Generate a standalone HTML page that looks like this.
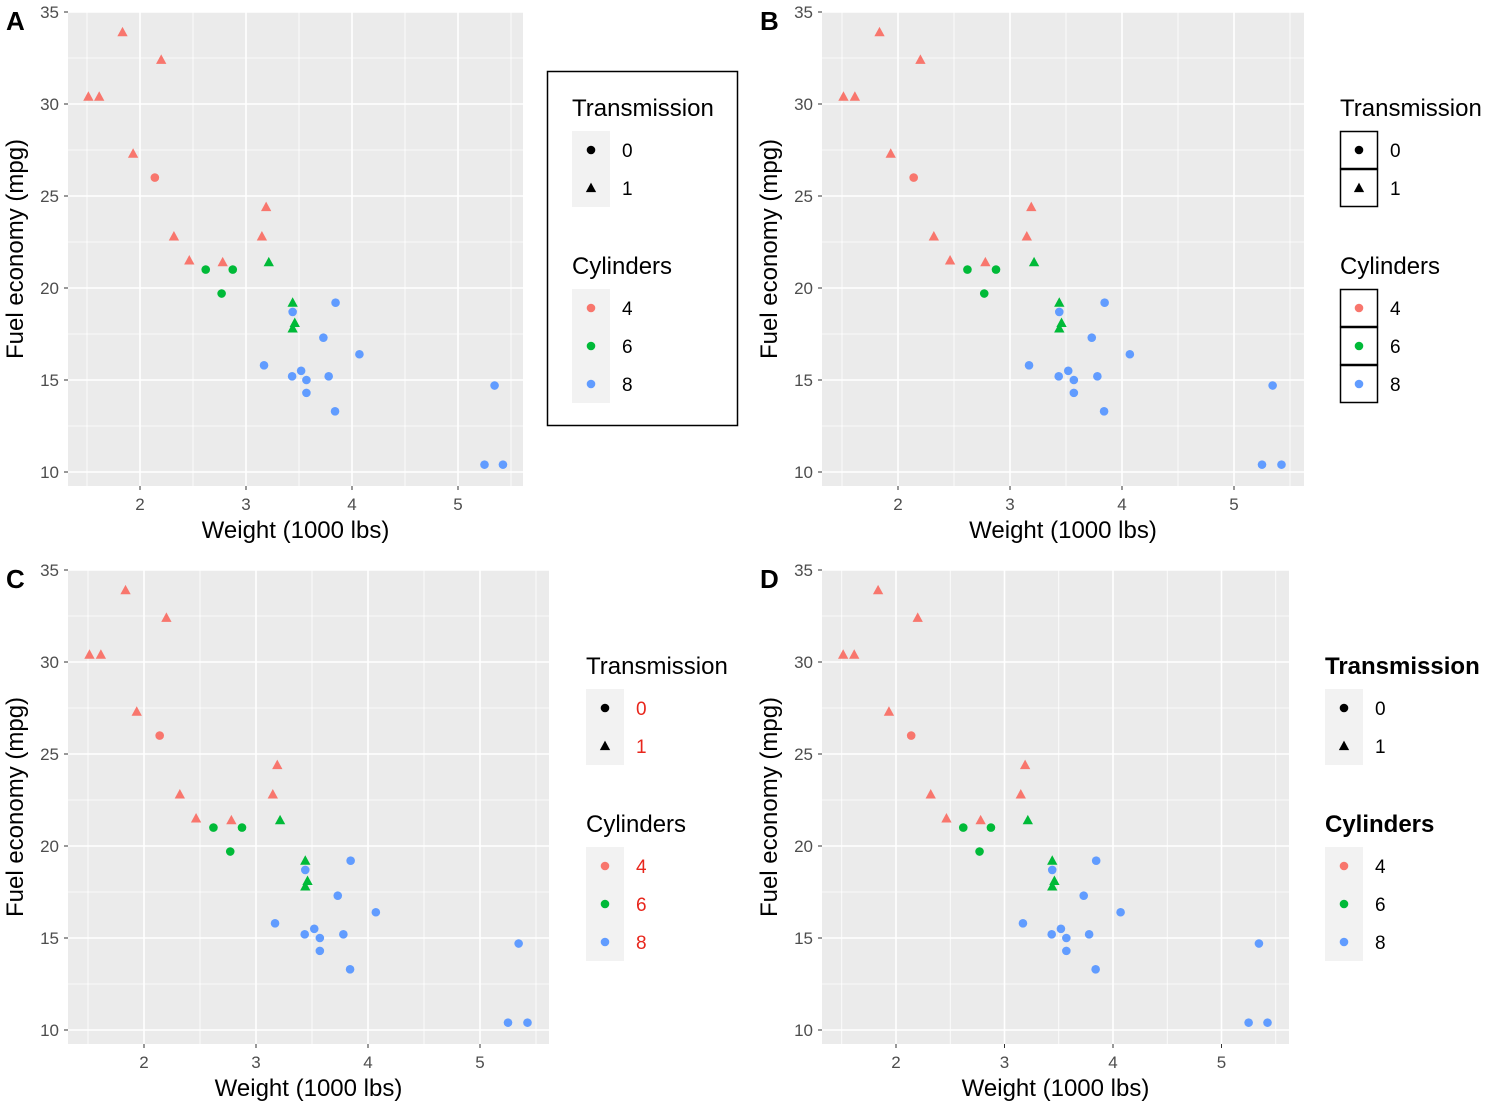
<!DOCTYPE html>
<html><head><meta charset="utf-8"><style>
html,body{margin:0;padding:0;background:#fff;}
svg{display:block;font-family:"Liberation Sans",Arial,sans-serif;}
</style></head><body>
<svg id="s" width="1500" height="1109" viewBox="0 0 1500 1109" xmlns="http://www.w3.org/2000/svg"></svg>
<script>
// mtcars: weight (1000 lbs), mpg, cylinders, shape group
const weights=[2.620,2.875,2.320,3.215,3.440,3.460,3.570,3.190,3.150,3.440,3.440,4.070,3.730,3.780,5.250,5.424,5.345,2.200,1.615,1.835,2.465,3.520,3.435,3.840,3.845,1.935,2.140,1.513,3.170,2.770,3.570,2.780];
const mpgs=[21.0,21.0,22.8,21.4,18.7,18.1,14.3,24.4,22.8,19.2,17.8,16.4,17.3,15.2,10.4,10.4,14.7,32.4,30.4,33.9,21.5,15.5,15.2,13.3,19.2,27.3,26.0,30.4,15.8,19.7,15.0,21.4];
const cyls=[6,6,4,6,8,6,8,4,4,6,6,8,8,8,8,8,8,4,4,4,4,8,8,8,8,4,4,4,8,6,8,4];
const trans=[0,0,1,1,0,1,0,1,1,1,1,0,0,0,0,0,0,1,1,1,1,0,0,0,0,1,0,1,0,0,0,1];
const xTicks=[2,3,4,5];
const yTicks=[10,15,20,25,30,35];
const transLevels=["0","1"];
const cylLevels=["4","6","8"];
const colors={4:"#F8766D",6:"#00BA38",8:"#619CFF"};

const NS="http://www.w3.org/2000/svg";
const svg=document.getElementById('s');
function el(tag,attrs,parent,text){const e=document.createElementNS(NS,tag);for(const k in attrs)e.setAttribute(k,attrs[k]);if(text!==undefined)e.textContent=text;(parent||svg).appendChild(e);return e;}

const panels=[
 {id:"a",label:"A",x0:68,x1:523,y0:12,y1:486,x2px:140,ppu:106,legend:{x:572,y:108,style:"boxed"}},
 {id:"b",label:"B",x0:822,x1:1304,y0:12,y1:486,x2px:898,ppu:112,legend:{x:1340,y:108,style:"keyborder"}},
 {id:"c",label:"C",x0:68,x1:549,y0:570,y1:1044,x2px:144,ppu:112,legend:{x:586,y:666,style:"red"}},
 {id:"d",label:"D",x0:822,x1:1289,y0:570,y1:1044,x2px:896,ppu:108.5,legend:{x:1325,y:666,style:"bold"}}
];

function shape(g,type,cx,cy,col,r){
 if(type===0) return el('circle',{cx:cx,cy:cy,r:r,fill:col},g);
 const h=r*2.1,w=r*2.4;
 return el('polygon',{points:`${cx},${cy-h*0.6} ${cx-w/2},${cy+h*0.45} ${cx+w/2},${cy+h*0.45}`,fill:col},g);
}

panels.forEach(p=>{
 const g=el('g',{},svg);
 const sx=v=>p.x2px+(v-2)*p.ppu;
 const yppu=18.4;
 const sy=v=>p.y0+(35-v)*yppu;
 const bg=el('rect',{x:p.x0,y:p.y0,width:p.x1-p.x0,height:p.y1-p.y0,fill:"#EBEBEB"},g);
 
 for(let v=1.5;v<=5.5;v+=1){const x=sx(v);if(x>p.x0&&x<p.x1)el('line',{x1:x,x2:x,y1:p.y0,y2:p.y1,stroke:"#fff","stroke-width":0.8},g);}
 for(let v=12.5;v<=32.5;v+=5){el('line',{x1:p.x0,x2:p.x1,y1:sy(v),y2:sy(v),stroke:"#fff","stroke-width":0.8},g);}
 xTicks.forEach(v=>{const x=sx(v);el('line',{x1:x,x2:x,y1:p.y0,y2:p.y1,stroke:"#fff","stroke-width":1.6},g);
  el('line',{x1:x,x2:x,y1:p.y1,y2:p.y1+4,stroke:"#333","stroke-width":1},g);
  const t=el('text',{x:x,y:p.y1+24,"text-anchor":"middle","font-size":17,fill:"#4D4D4D"},g,String(v));
  });
 yTicks.forEach(v=>{const y=sy(v);el('line',{x1:p.x0,x2:p.x1,y1:y,y2:y,stroke:"#fff","stroke-width":1.6},g);
  el('line',{x1:p.x0-4,x2:p.x0,y1:y,y2:y,stroke:"#333","stroke-width":1},g);
  const t=el('text',{x:p.x0-9,y:y+6,"text-anchor":"end","font-size":17,fill:"#4D4D4D"},g,String(v));
  });
 weights.forEach((w,i)=>{const m=shape(g,trans[i],sx(w),sy(mpgs[i]),colors[cyls[i]],4.3);
  });
 const xt=el('text',{x:(p.x0+p.x1)/2,y:p.y1+52,"text-anchor":"middle","font-size":24,fill:"#000"},g,"Weight (1000 lbs)");
 
 const yc=(p.y0+p.y1)/2, yx=p.x0-45;
 const yt=el('text',{x:yx,y:yc,"text-anchor":"middle","font-size":24,fill:"#000",transform:`rotate(-90 ${yx} ${yc})`},g,"Fuel economy (mpg)");
 
 const pl=el('text',{x:p.x0-62,y:p.y0+18,"font-size":26,"font-weight":"bold",fill:"#000"},g,p.label);
 
 const L=p.legend;const lg=el('g',{},g);
 if(L.style==="boxed") el('rect',{x:547.5,y:71.5,width:190,height:354,fill:"none",stroke:"#000","stroke-width":1.5},lg);
 const fw=L.style==="bold"?"bold":"normal";
 const labCol=L.style==="red"?"#E8261C":"#000";
 function block(title,levels,ty,drawKey){
  const t=el('text',{x:L.x,y:ty+8,"font-size":24,"font-weight":fw,fill:"#000"},lg,title);
  
  const top=ty+23;
  levels.forEach((lv,i)=>{const ky=top+i*38;
   if(L.style==="keyborder") el('rect',{x:L.x+0.5,y:ky+0.5,width:37,height:37,fill:"#fff",stroke:"#000","stroke-width":1.5},lg);
   else el('rect',{x:L.x,y:ky,width:38,height:38,fill:"#F2F2F2"},lg);
   drawKey(i,L.x+19,ky+19);
   const tx=el('text',{x:L.x+50,y:ky+26,"font-size":19,fill:labCol},lg,lv);
   });
 }
 block("Transmission",transLevels,L.y,(i,cx,cy)=>shape(lg,i,cx,cy,"#000",4.3));
 block("Cylinders",cylLevels,L.y+158,(i,cx,cy)=>shape(lg,0,cx,cy,colors[cylLevels[i]],4.3));
});
</script>
</body></html>
